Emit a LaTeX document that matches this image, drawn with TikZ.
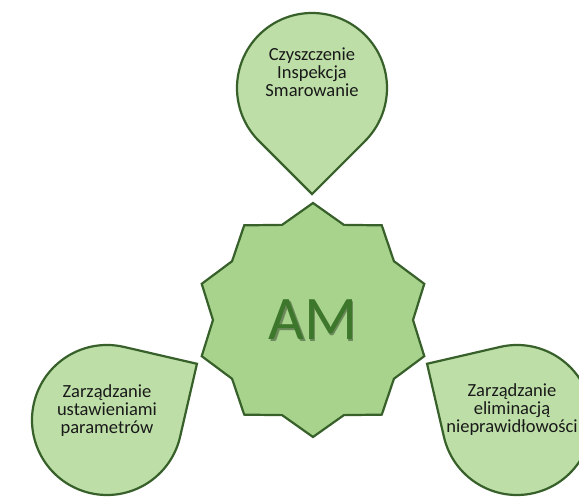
\documentclass[tikz,border=0pt]{standalone}
\usepackage{fontspec}
\setmainfont{Carlito}
\usetikzlibrary{shapes.geometric,calc}

\definecolor{leaf}{HTML}{BDDFA7}
\definecolor{leafstar}{HTML}{A7D38C}
\definecolor{edge}{HTML}{38602A}
\definecolor{amtext}{HTML}{3D772B}

% kropla: srodek, kierunek ostrza, promien
\newcommand{\kropla}[3]{%
  \draw[drop] ($(#1)+(#2+45:#3)$) arc[start angle=#2+45, end angle=#2+315, radius=#3]
    -- ($(#1)+(#2:{1.4142*#3})$) -- cycle;
}

\begin{document}
\begin{tikzpicture}[x=1pt, y=1pt, line width=2.2pt,
  drop/.style={draw=edge, fill=leaf, line join=miter},
  droptext/.style={align=center, text=black!90, font=\fontsize{18.5}{18}\selectfont},
  amstar/.style={star, star points=10, star point ratio=1.17, minimum size=234pt,
    inner sep=0pt, draw=edge, fill=leafstar},
  amfont/.style={font=\fontsize{62}{62}\selectfont}]
\useasboundingbox (0,0) rectangle (579,497);

% gwiazda w srodku
\node[amstar] (am) at (313,177) {};
\node[amfont, text=black, opacity=0.35] (amcien) at (314.5,175.5) {AM};
\node[amfont, text=amtext] (amtxt) at (am.center) {AM};

% trzy krople
\kropla{312,409}{-90}{75}
\kropla{107,77}{32}{75}
\kropla{517,77}{148}{75}

% teksty
\node[droptext] (cis) at (312,425) {Czyszczenie\\Inspekcja\\Smarowanie};
\node[droptext] (param) at (107,86) {Zarządzanie\\ustawieniami\\parametrów};
\node[droptext] (niepr) at (512,87) {Zarządzanie\\eliminacją\\nieprawidłowości};
\end{tikzpicture}
\end{document}
